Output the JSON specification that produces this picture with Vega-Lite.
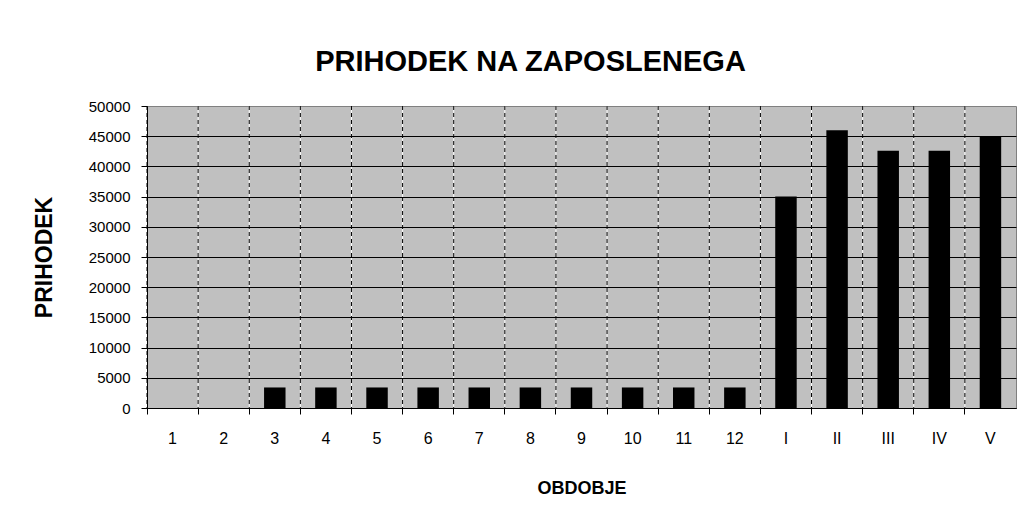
{
  "$schema": "https://vega.github.io/schema/vega-lite/v6.json",
  "autosize": {"type": "none"},
  "width": 869,
  "height": 302,
  "padding": {"left": 147, "top": 106, "right": 14, "bottom": 101},
  "background": "white",
  "config": {
    "view": {"fill": "#C0C0C0", "stroke": "#808080", "strokeWidth": 1},
    "font": "Liberation Sans"
  },
  "title": {
    "text": "PRIHODEK NA ZAPOSLENEGA",
    "font": "Liberation Sans",
    "fontSize": 29,
    "fontWeight": "bold",
    "color": "#000000",
    "anchor": "middle",
    "baseline": "alphabetic",
    "offset": 36,
    "dx": -51,
    "dy": 37
  },
  "data": {
    "values": [
      {"obdobje": "1", "prihodek": 0},
      {"obdobje": "2", "prihodek": 0},
      {"obdobje": "3", "prihodek": 3400},
      {"obdobje": "4", "prihodek": 3400},
      {"obdobje": "5", "prihodek": 3400},
      {"obdobje": "6", "prihodek": 3400},
      {"obdobje": "7", "prihodek": 3400},
      {"obdobje": "8", "prihodek": 3400},
      {"obdobje": "9", "prihodek": 3400},
      {"obdobje": "10", "prihodek": 3400},
      {"obdobje": "11", "prihodek": 3400},
      {"obdobje": "12", "prihodek": 3400},
      {"obdobje": "I", "prihodek": 35000},
      {"obdobje": "II", "prihodek": 46000},
      {"obdobje": "III", "prihodek": 42600},
      {"obdobje": "IV", "prihodek": 42600},
      {"obdobje": "V", "prihodek": 44900}
    ]
  },
  "encoding": {
    "x": {
      "field": "obdobje",
      "type": "nominal",
      "sort": null,
      "scale": {"paddingInner": 0, "paddingOuter": 0},
      "axis": {
        "title": "OBDOBJE",
        "titleFont": "Liberation Sans",
        "titleFontSize": 18,
        "titleFontWeight": "bold",
        "titleColor": "#000000",
        "titleAnchor": "middle",
        "titleBaseline": "alphabetic",
        "titleY": 85,
        "labelAngle": 0,
        "labelFont": "Liberation Sans",
        "labelFontSize": 16,
        "labelColor": "#000000",
        "labelPadding": 16,
        "bandPosition": 0,
        "grid": false,
        "domainColor": "#000000",
        "domainWidth": 1,
        "tickColor": "#000000",
        "tickSize": 6,
        "tickWidth": 1,
        "zindex": 1
      }
    }
  },
  "layer": [
    {
      "mark": {"type": "rule", "color": "#FFFFFF", "strokeWidth": 1},
      "encoding": {
        "x": {"field": "obdobje", "type": "nominal", "sort": null, "bandPosition": 0}
      }
    },
    {
      "mark": {"type": "rule", "color": "#000000", "strokeWidth": 1, "strokeDash": [4, 3]},
      "encoding": {
        "x": {"field": "obdobje", "type": "nominal", "sort": null, "bandPosition": 0}
      }
    },
    {
      "mark": {"type": "bar", "color": "#000000", "width": {"band": 0.42}},
      "encoding": {
        "y": {
          "field": "prihodek",
          "type": "quantitative",
          "scale": {"domain": [0, 50000], "nice": false},
          "axis": {
            "title": "PRIHODEK",
            "titleFont": "Liberation Sans",
            "titleFontSize": 23,
            "titleFontWeight": "bold",
            "titleColor": "#000000",
            "titleAngle": -90,
            "titleAlign": "center",
            "titleBaseline": "middle",
            "titleX": -103,
            "titleY": 151,
            "values": [0, 5000, 10000, 15000, 20000, 25000, 30000, 35000, 40000, 45000, 50000],
            "format": "d",
            "labelFont": "Liberation Sans",
            "labelFontSize": 15,
            "labelColor": "#000000",
            "labelPadding": 11,
            "grid": true,
            "gridColor": {"condition": {"test": "datum.value >= 50000", "value": "transparent"}, "value": "#000000"},
            "gridWidth": 1,
            "domainColor": "#000000",
            "domainWidth": 1,
            "tickColor": "#000000",
            "tickSize": 6,
            "tickWidth": 1,
            "zindex": 1
          }
        }
      }
    }
  ]
}
